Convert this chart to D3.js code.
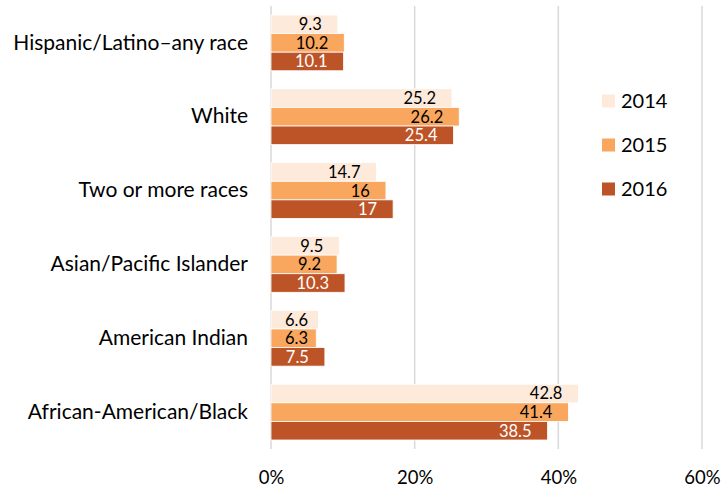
<!DOCTYPE html>
<html><head><meta charset="utf-8">
<script src="https://cdn.jsdelivr.net/npm/d3@7"></script>
<style>body{margin:0;background:#fff;} svg{display:block;} svg text{font-family:Lato,"Open Sans",sans-serif;}</style>
</head><body>
<svg id="c" width="724" height="488"></svg>
<script>
const categories = ["Hispanic/Latino\u2013any race","White","Two or more races","Asian/Pacific Islander","American Indian","African-American/Black"];
const years = ["2014","2015","2016"];
const values2014 = [9.3,25.2,14.7,9.5,6.6,42.8];
const values2015 = [10.2,26.2,16,9.2,6.3,41.4];
const values2016 = [10.1,25.4,17,10.3,7.5,38.5];
const tickValues = [0,20,40,60];
const colors = ["#fdeadb","#f9a65e","#bd5428"];
const labelColors = ["#000","#000","#fff"];
const series = [values2014, values2015, values2016];

const svg = d3.select("#c");
const x = d3.scaleLinear().domain([0,60]).range([271,702]);
const y = d3.scaleBand().domain(categories).range([6,449]).paddingInner(0.245).paddingOuter(0.122);
const yi = d3.scaleBand().domain(years).range([0,y.bandwidth()]);

// grid
svg.append("g").selectAll("line").data(tickValues).join("line")
  .attr("x1",d=>x(d)).attr("x2",d=>x(d)).attr("y1",6).attr("y2",449)
  .attr("stroke","#d9d9d9").attr("stroke-width",1.5);

// axis labels
const xAxis = d3.axisBottom(x).tickValues(tickValues).tickFormat(d=>d+"%").tickSize(0).tickPadding(0);
const gx = svg.append("g").attr("transform","translate(0,0)").call(xAxis).attr("font-family",null);
gx.select(".domain").remove();
gx.selectAll("text").attr("font-size",18.5).attr("fill","#000").attr("y",484).attr("dy",null);

// category labels
const yAxis = d3.axisLeft(y).tickSize(0).tickPadding(0);
const gy = svg.append("g").attr("transform","translate(248,0)").call(yAxis).attr("font-family",null);
gy.select(".domain").remove();
gy.selectAll("text").attr("font-size",21).attr("fill","#000");

// bars
categories.forEach((c,ci)=>{
  years.forEach((yr,si)=>{
    const v = series[si][ci];
    const y0 = y(c)+yi(yr);
    svg.append("rect").attr("x",x(0)).attr("y",y0).attr("width",x(v)-x(0)).attr("height",yi.bandwidth())
      .attr("fill",colors[si]).attr("stroke","#fff").attr("stroke-width",0.8);
    const t = svg.append("text").attr("y",y0+yi.bandwidth()/2).attr("dy","0.36em")
      .attr("font-size",16.5).attr("fill",labelColors[si]).text(v);
    const w = t.node().getComputedTextLength();
    let start = x(v)-16-w;
    if (start < x(0)+14) start = x(0)+14;
    t.attr("x",start);
  });
});

// legend
const lg = svg.append("g");
years.forEach((yr,i)=>{
  const ly = 101 + i*44;
  lg.append("rect").attr("x",602).attr("y",ly-6.5).attr("width",13).attr("height",13).attr("fill",colors[i]);
  lg.append("text").attr("x",621).attr("y",ly).attr("dy","0.36em").attr("font-size",20).attr("fill","#000").text(yr);
});
</script>
</body></html>
